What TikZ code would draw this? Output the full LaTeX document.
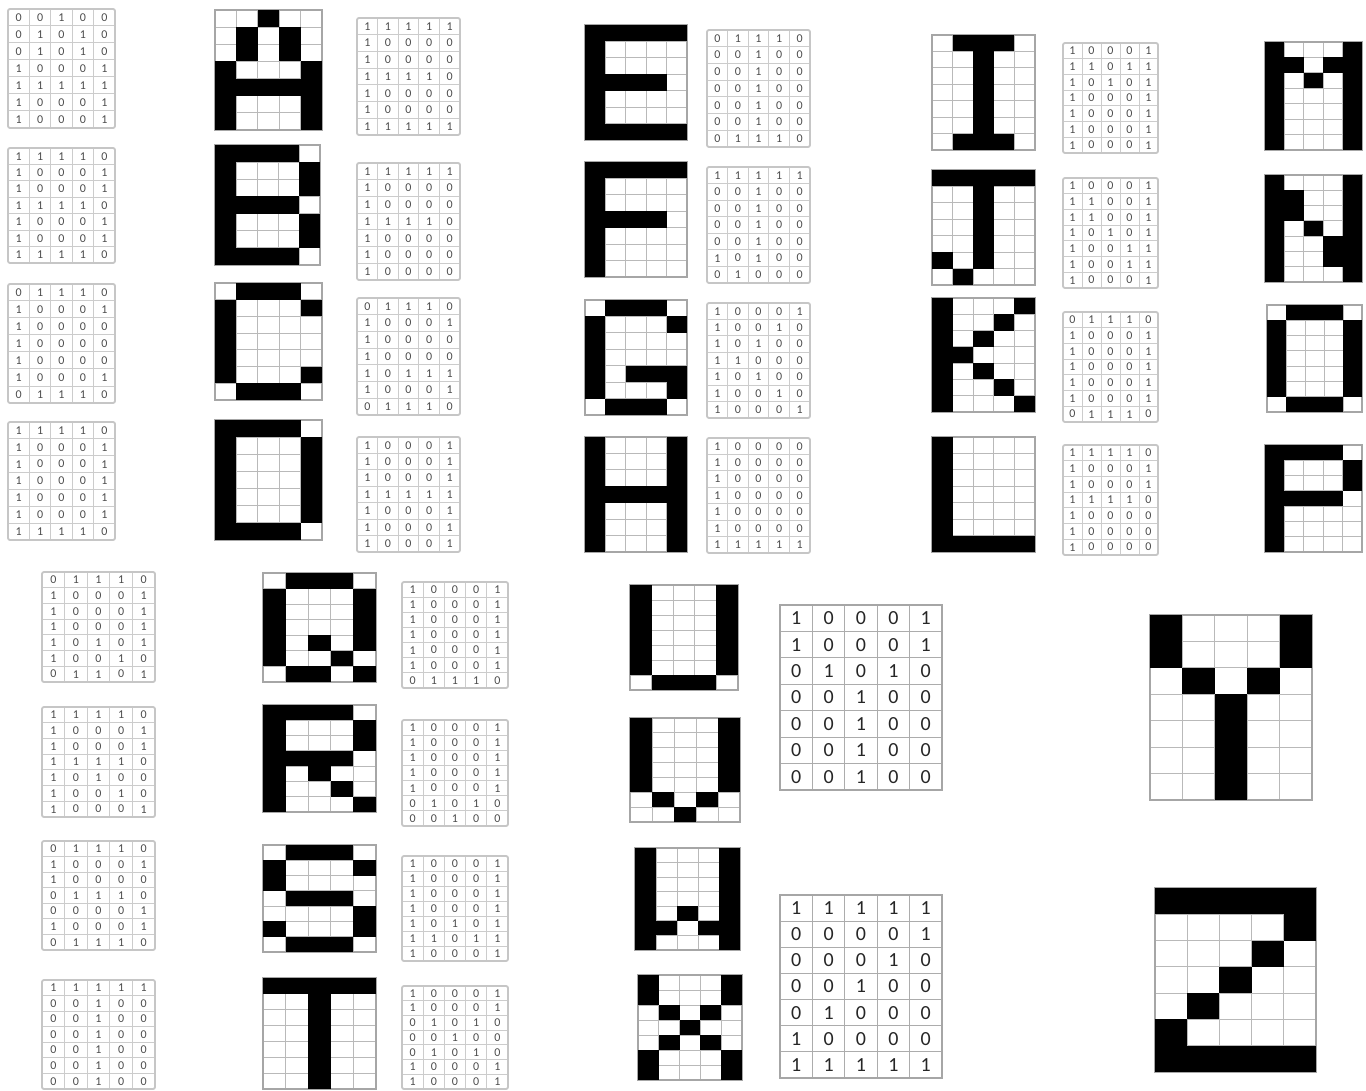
\documentclass[tikz,border=0pt]{standalone}
\usepackage{fontspec}
\setmainfont{Carlito}
\newcount\bitn
\newif\ifpixmode
\tikzset{
  pixline/.style={draw=gray!55, line width=0.9pt},
  pixborder/.style={draw=gray!70, line width=1.2pt},
  pixfill/.style={fill=black},
  numline/.style={draw=gray!40, line width=1pt},
  numlineborder/.style={draw=gray!45, line width=1.8pt, rounded corners=2pt},
  numtxt/.style={text=black!70, font=\fontsize{12}{12}\selectfont, inner sep=0pt},
  bignumline/.style={draw=gray!65, line width=1.1pt},
  bignumlineborder/.style={draw=gray!70, line width=1.3pt},
  bignumtxt/.style={text=black!85, font=\fontsize{20}{21}\selectfont, inner sep=0pt},
}
% bit strings (7 rows of 5)
\def\bA{00100 01010 01010 10001 11111 10001 10001}
\def\bB{11110 10001 10001 11110 10001 10001 11110}
\def\bC{01110 10001 10000 10000 10000 10001 01110}
\def\bD{11110 10001 10001 10001 10001 10001 11110}
\def\bE{11111 10000 10000 11110 10000 10000 11111}
\def\bF{11111 10000 10000 11110 10000 10000 10000}
\def\bG{01110 10001 10000 10000 10111 10001 01110}
\def\bH{10001 10001 10001 11111 10001 10001 10001}
\def\bI{01110 00100 00100 00100 00100 00100 01110}
\def\bJ{11111 00100 00100 00100 00100 10100 01000}
\def\bK{10001 10010 10100 11000 10100 10010 10001}
\def\bL{10000 10000 10000 10000 10000 10000 11111}
\def\bM{10001 11011 10101 10001 10001 10001 10001}
\def\bN{10001 11001 11001 10101 10011 10011 10001}
\def\bO{01110 10001 10001 10001 10001 10001 01110}
\def\bP{11110 10001 10001 11110 10000 10000 10000}
\def\bQ{01110 10001 10001 10001 10101 10010 01101}
\def\bR{11110 10001 10001 11110 10100 10010 10001}
\def\bS{01110 10001 10000 01110 00001 10001 01110}
\def\bT{11111 00100 00100 00100 00100 00100 00100}
\def\bU{10001 10001 10001 10001 10001 10001 01110}
\def\bV{10001 10001 10001 10001 10001 01010 00100}
\def\bW{10001 10001 10001 10001 10101 11011 10001}
\def\bX{10001 10001 01010 00100 01010 10001 10001}
\def\bY{10001 10001 01010 00100 00100 00100 00100}
\def\bZ{11111 00001 00010 00100 01000 10000 11111}

\def\bitloop#1{\ifx#1\relax\else\dobit#1\expandafter\bitloop\fi}
\def\dobit#1{%
  \pgfmathtruncatemacro\cc{mod(\the\bitn,5)}%
  \pgfmathtruncatemacro\rr{floor(\the\bitn/5)}%
  \ifpixmode
    \if1#1\fill[pixfill] ({\gx+\cc*\gw},{\gy+\rr*\gh}) rectangle ({\gx+(\cc+1)*\gw},{\gy+(\rr+1)*\gh});\fi
  \else
    \edef\nn{\gname-\the\bitn}%
    \node[\gtxt] (\nn) at ({\gx+(\cc+0.5)*\gw},{\gy+(\rr+0.5)*\gh}) {#1};%
  \fi
  \global\advance\bitn by 1\relax}

\newcommand\gridlines[5]{%
  \foreach \k in {1,...,4} \draw[#1] ({#2+\k*(#4-#2)/5},#3) -- ({#2+\k*(#4-#2)/5},#5);
  \foreach \k in {1,...,6} \draw[#1] (#2,{#3+\k*(#5-#3)/7}) -- (#4,{#3+\k*(#5-#3)/7});
}
% pixel letter: name, x0, y0, x1, y1, bits
\newcommand\pixletter[6]{%
  \gridlines{pixline}{#2}{#3}{#4}{#5}
  \draw[pixborder] (#2,#3) rectangle (#4,#5);
  \def\gx{#2}\def\gy{#3}\pgfmathsetmacro\gw{(#4-#2)/5}\pgfmathsetmacro\gh{(#5-#3)/7}
  \def\gname{#1}\pixmodetrue\global\bitn=0
  \expandafter\bitloop#6\relax
}
% numeric grid: name, line style, text style, x0, y0, x1, y1, bits
\newcommand\numletter[8]{%
  \gridlines{#2}{#4}{#5}{#6}{#7}
  \draw[#2border] (#4,#5) rectangle (#6,#7);
  \def\gx{#4}\def\gy{#5}\pgfmathsetmacro\gw{(#6-#4)/5}\pgfmathsetmacro\gh{(#7-#5)/7}
  \def\gname{#1}\def\gtxt{#3}\pixmodefalse\global\bitn=0
  \expandafter\bitloop#8\relax
}
\newcommand\smallnum[6]{\numletter{#1}{numline}{numtxt}{#2}{#3}{#4}{#5}{#6}}

\begin{document}
\begin{tikzpicture}[x=1pt,y=-1pt]
\fill[white] (0,0) rectangle (1366,1091);
\useasboundingbox (0,0) rectangle (1366,1091);

% ---- top block: numeric A-D
\smallnum{nA}{8}{9}{115}{128}{\bA}
\smallnum{nB}{8}{148}{115}{263}{\bB}
\smallnum{nC}{8}{284}{115}{403}{\bC}
\smallnum{nD}{8}{422}{115}{540}{\bD}
% pixel A-D
\pixletter{pA}{215}{10}{322}{130}{\bA}
\pixletter{pB}{215}{145}{320}{265}{\bB}
\pixletter{pC}{215}{283}{322}{400}{\bC}
\pixletter{pD}{215}{420}{322}{540}{\bD}
% numeric E-H
\smallnum{nE}{357}{18}{460}{135}{\bE}
\smallnum{nF}{357}{163}{460}{280}{\bF}
\smallnum{nG}{357}{298}{460}{415}{\bG}
\smallnum{nH}{357}{437}{460}{552}{\bH}
% pixel E-H
\pixletter{pE}{585}{25}{687}{140}{\bE}
\pixletter{pF}{585}{162}{687}{277}{\bF}
\pixletter{pG}{585}{300}{687}{415}{\bG}
\pixletter{pH}{585}{437}{687}{552}{\bH}
% numeric I-L
\smallnum{nI}{707}{30}{810}{147}{\bI}
\smallnum{nJ}{707}{167}{810}{283}{\bJ}
\smallnum{nK}{707}{303}{810}{418}{\bK}
\smallnum{nL}{707}{438}{810}{553}{\bL}
% pixel I-L
\pixletter{pI}{932}{35}{1035}{150}{\bI}
\pixletter{pJ}{932}{170}{1035}{285}{\bJ}
\pixletter{pK}{932}{298}{1035}{412}{\bK}
\pixletter{pL}{932}{437}{1035}{552}{\bL}
% numeric M-P
\smallnum{nM}{1063}{43}{1158}{153}{\bM}
\smallnum{nN}{1063}{178}{1158}{288}{\bN}
\smallnum{nO}{1063}{312}{1158}{422}{\bO}
\smallnum{nP}{1063}{445}{1158}{555}{\bP}
% pixel M-P
\pixletter{pM}{1265}{42}{1362}{150}{\bM}
\pixletter{pN}{1265}{175}{1362}{282}{\bN}
\pixletter{pO}{1267}{305}{1362}{412}{\bO}
\pixletter{pP}{1265}{445}{1362}{552}{\bP}

% ---- bottom block: numeric Q-T
\smallnum{nQ}{42}{572}{155}{682}{\bQ}
\smallnum{nR}{42}{707}{155}{817}{\bR}
\smallnum{nS}{42}{841}{155}{950}{\bS}
\smallnum{nT}{42}{980}{155}{1089}{\bT}
% pixel Q-T
\pixletter{pQ}{263}{573}{376}{682}{\bQ}
\pixletter{pR}{263}{705}{376}{812}{\bR}
\pixletter{pS}{263}{845}{376}{952}{\bS}
\pixletter{pT}{263}{978}{376}{1089}{\bT}
% numeric U-X
\smallnum{nU}{402}{582}{508}{688}{\bU}
\smallnum{nV}{402}{720}{508}{826}{\bV}
\smallnum{nW}{402}{856}{508}{961}{\bW}
\smallnum{nX}{402}{986}{508}{1089}{\bX}
% pixel U-X
\pixletter{pU}{630}{585}{738}{690}{\bU}
\pixletter{pV}{630}{718}{740}{822}{\bV}
\pixletter{pW}{635}{848}{740}{950}{\bW}
\pixletter{pX}{638}{975}{742}{1080}{\bX}
% big numeric Y, Z
\numletter{nY}{bignumline}{bignumtxt}{780}{605}{942}{790}{\bY}
\numletter{nZ}{bignumline}{bignumtxt}{780}{895}{942}{1078}{\bZ}
% big pixel Y, Z
\pixletter{pY}{1150}{615}{1312}{800}{\bY}
\pixletter{pZ}{1155}{888}{1316}{1072}{\bZ}
\end{tikzpicture}
\end{document}
